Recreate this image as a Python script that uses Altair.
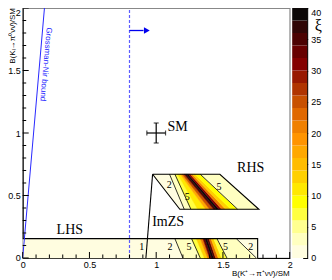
import altair as alt
import pandas as pd

W, H = 267, 250
SANS = "Liberation Sans"
SERIF = "Liberation Serif"

# ---- axis ticks / labels ----
x_major = [0, 0.5, 1, 1.5, 2]
x_minor = [0.1, 0.2, 0.3, 0.4, 0.6, 0.7, 0.8, 0.9, 1.1, 1.2, 1.3, 1.4, 1.6, 1.7, 1.8, 1.9]
y_major = [0, 0.5, 1, 1.5, 2]
y_minor = [0.1, 0.2, 0.3, 0.4, 0.6, 0.7, 0.8, 0.9, 1.1, 1.2, 1.3, 1.4, 1.6, 1.7, 1.8, 1.9]
xi_ticks = [0, 5, 10, 15, 20, 25, 30, 35, 40]
xi_levels = [0, 2, 4, 6, 8, 10, 12, 14, 16, 18, 20, 22, 24, 26, 28, 30, 32, 34, 36, 38, 40]
palette = ["#fffde0", "#ffffc0", "#ffff90", "#ffff40", "#ffff00", "#ffe800", "#ffd000",
           "#ffbc00", "#ffa800", "#ff9400", "#f08000", "#e06800", "#c85000", "#b03400",
           "#981800", "#840000", "#680000", "#4c0202", "#300606", "#0c0808"]

# ---- LHS band (strips between slanted boundaries) ----
band_y = [0.0, 0.155]
band_bottom = [0.0, 0.925, 1.20, 1.33, 1.36, 1.385, 1.40, 1.415, 1.43, 1.445, 1.465, 1.49, 1.53, 1.75, 1.76]
band_top = [0.0, 0.93, 1.14, 1.265, 1.30, 1.33, 1.35, 1.365, 1.38, 1.395, 1.41, 1.43, 1.455, 1.60, 1.76]
band_xi = [1, 1.5, 3, 7, 12, 20, 32, 39, 34, 22, 12, 7, 3, 1.5]
band_contours = [2, 3, 12, 13]

# ---- RHS trapezoid ----
trap_y = [0.39, 0.67]
trap_bottom = [1.177, 1.21, 1.26, 1.31, 1.37, 1.40, 1.43, 1.45, 1.47, 1.49, 1.52, 1.56, 1.61, 1.769]
trap_top = [0.973, 1.10, 1.14, 1.16, 1.18, 1.195, 1.21, 1.225, 1.24, 1.255, 1.27, 1.29, 1.33, 1.477]
trap_xi = [1.5, 3, 7, 11, 17, 25, 34, 39, 30, 20, 13, 8, 3]
trap_contours = [1, 2, 12]

# ---- other elements ----
imzs_x = [0.973, 0.923]
imzs_y = [0.67, 0.0]
gn_x = [0.0, 0.163]
gn_y = [0.0, 2.0]
cut_x = [0.8]
arrow_x = [0.8, 0.905]
arrow_y = [1.82, 1.82]
arrow_head = [0.93]
sm_x, sm_y, sm_ex, sm_ey = [1.0], [1.0], [0.07], [0.08]

region_labels = ["LHS", "RHS", "ImZS", "SM"]
region_lx = [0.254, 1.606, 0.970, 1.085]
region_ly = [0.189, 0.687, 0.252, 1.016]

contour_labels = ["1", "2", "5", "5", "2", "2", "5", "5"]
contour_lx = [0.891, 1.104, 1.246, 1.52, 1.709, 1.097, 1.232, 1.47]
contour_ly = [0.089, 0.089, 0.089, 0.089, 0.089, 0.585, 0.485, 0.565]

# ---- build tables ----
rows = []
for name, ys, bot, top, xi in [("b", band_y, band_bottom, band_top, band_xi),
                               ("t", trap_y, trap_bottom, trap_top, trap_xi)]:
    for i, v in enumerate(xi):
        rows.append(dict(s=f"{name}{i}", y=ys[0], xl=bot[i], xr=bot[i + 1], xi=v))
        rows.append(dict(s=f"{name}{i}", y=ys[1], xl=top[i], xr=top[i + 1], xi=v))
strips = pd.DataFrame(rows)

lrows = []
def add_line(name, pts):
    for o, (x, y) in enumerate(pts):
        lrows.append(dict(id=name, o=o, x=x, y=y))

add_line("band", [(band_top[0], band_y[1]), (band_top[-1], band_y[1]), (band_bottom[-1], band_y[0])])
add_line("trap", [(trap_top[0], trap_y[1]), (trap_top[-1], trap_y[1]),
                  (trap_bottom[-1], trap_y[0]), (trap_bottom[0], trap_y[0]),
                  (trap_top[0], trap_y[1])])
add_line("imzs", list(zip(imzs_x, imzs_y)))
outlines = pd.DataFrame(lrows)
lrows = []
for k in band_contours:
    add_line(f"bc{k}", [(band_bottom[k], band_y[0]), (band_top[k], band_y[1])])
for k in trap_contours:
    add_line(f"tc{k}", [(trap_bottom[k], trap_y[0]), (trap_top[k], trap_y[1])])
contours = pd.DataFrame(lrows)

xs = alt.Scale(domain=[0, 2], nice=False, zero=False)
ys_ = alt.Scale(domain=[0, 2], nice=False, zero=False)
cscale = alt.Scale(type="threshold", domain=xi_levels[1:-1], range=palette)

xaxis = alt.Axis(values=x_major, format="~g", ticks=False, grid=False, domain=True,
                 domainColor="black", domainWidth=1, labelFont=SANS, labelFontSize=9,
                 labelColor="black", labelPadding=3, labelFlush=False, labelOverlap=False,
                 title=None)
yaxis = alt.Axis(orient="left", values=y_major, format="~g", ticks=False, grid=False,
                 domain=True, domainColor="black", domainWidth=1, labelFont=SANS,
                 labelFontSize=9, labelColor="black", labelPadding=2.5, labelFlush=False,
                 labelOverlap=False, title=None,
                 labelBaseline={"condition": {"test": "datum.value == 2", "value": "top"},
                                "value": "middle"})

def X(f):
    return alt.X(f + ":Q", scale=xs, axis=xaxis)

def Y(f):
    return alt.Y(f + ":Q", scale=ys_, axis=yaxis)

areas = alt.Chart(strips).mark_area(orient="horizontal", strokeWidth=0.5).encode(
    y=Y("y"), x=X("xl"), x2="xr:Q",
    color=alt.Color("xi:Q", scale=cscale, legend=None),
    stroke=alt.Stroke("xi:Q", scale=cscale, legend=None),
    detail="s:N")

contour_lines = alt.Chart(contours).mark_line(color="black", strokeWidth=0.8).encode(
    x=X("x"), y=Y("y"), detail="id:N", order="o:Q")
outline_lines = alt.Chart(outlines).mark_line(color="black", strokeWidth=1.1).encode(
    x=X("x"), y=Y("y"), detail="id:N", order="o:Q")

gn = alt.Chart(pd.DataFrame({"x": gn_x, "y": gn_y})).mark_line(color="#2828ff", strokeWidth=1).encode(
    x=X("x"), y=Y("y"))
gn_text = alt.Chart(pd.DataFrame({"x": [0.171], "y": [1.55], "t": ["Grossman-Nir bound"]})).mark_text(
    angle=95, align="center", baseline="middle", font=SANS, fontSize=8, color="#2828ff").encode(
    x=X("x"), y=Y("y"), text="t:N")

cut = alt.Chart(pd.DataFrame({"x": cut_x, "y0": [0.0], "y1": [2.0]})).mark_rule(
    color="#4a4aff", strokeDash=[3, 2], strokeWidth=1.2, opacity=0.9).encode(
    x=X("x"), y=Y("y0"), y2="y1:Q")
arrow = alt.Chart(pd.DataFrame({"x": arrow_x, "y": arrow_y})).mark_line(
    color="#0000ee", strokeWidth=1.3).encode(x=X("x"), y=Y("y"))
head = alt.Chart(pd.DataFrame({"x": arrow_head, "y": arrow_y[:1]})).mark_point(
    shape="triangle-right", size=45, filled=True, color="#0000ee", opacity=1).encode(x=X("x"), y=Y("y"))

sm = pd.DataFrame({"x": sm_x, "y": sm_y, "ex": sm_ex, "ey": sm_ey})
sm["x0"] = sm.x - sm.ex
sm["x1"] = sm.x + sm.ex
sm["y0"] = sm.y - sm.ey
sm["y1"] = sm.y + sm.ey
sm_h = alt.Chart(sm).mark_rule(color="black", strokeWidth=1.2).encode(x=X("x0"), x2="x1:Q", y=Y("y"))
sm_v = alt.Chart(sm).mark_rule(color="black", strokeWidth=1.2).encode(x=X("x"), y=Y("y0"), y2="y1:Q")
sm_cl = alt.Chart(sm).mark_tick(orient="vertical", size=5, thickness=1.2, color="black").encode(x=X("x0"), y=Y("y"))
sm_cr = alt.Chart(sm).mark_tick(orient="vertical", size=5, thickness=1.2, color="black").encode(x=X("x1"), y=Y("y"))
sm_cb = alt.Chart(sm).mark_tick(orient="horizontal", size=5, thickness=1.2, color="black").encode(x=X("x"), y=Y("y0"))
sm_ct = alt.Chart(sm).mark_tick(orient="horizontal", size=5, thickness=1.2, color="black").encode(x=X("x"), y=Y("y1"))

rl = alt.Chart(pd.DataFrame({"t": region_labels, "x": region_lx, "y": region_ly})).mark_text(
    align="left", baseline="alphabetic", font=SERIF, fontSize=14, color="black").encode(
    x=X("x"), y=Y("y"), text="t:N")
cl = alt.Chart(pd.DataFrame({"t": contour_labels, "x": contour_lx, "y": contour_ly})).mark_text(
    align="center", baseline="middle", font=SERIF, fontSize=10, color="black").encode(
    x=X("x"), y=Y("y"), text="t:N")

xt_major = alt.Chart(pd.DataFrame({"t": x_major})).mark_rule(color="black", strokeWidth=1).encode(
    x=X("t"), y=alt.value(H), y2=alt.value(H - 6))
xt_minor = alt.Chart(pd.DataFrame({"t": x_minor})).mark_rule(color="black", strokeWidth=1).encode(
    x=X("t"), y=alt.value(H), y2=alt.value(H - 3.5))
yt_major = alt.Chart(pd.DataFrame({"t": y_major})).mark_rule(color="black", strokeWidth=1).encode(
    y=Y("t"), x=alt.value(0), x2=alt.value(6))
yt_minor = alt.Chart(pd.DataFrame({"t": y_minor})).mark_rule(color="black", strokeWidth=1).encode(
    y=Y("t"), x=alt.value(0), x2=alt.value(3.5))

one = alt.Data(values=[{"a": 1}])
xtitle = alt.Chart(one).mark_text(
    text="B(K⁺→π⁺νν̄)/SM", align="right", baseline="middle", font=SANS, fontSize=8,
    color="black").encode(x=alt.value(W), y=alt.value(H + 16))
ytitle = alt.Chart(one).mark_text(
    text="B(Kₗ→π⁰νν̄)/SM", align="right", baseline="middle", angle=270, font=SANS,
    fontSize=8, color="black").encode(x=alt.value(-9.5), y=alt.value(0))

main = alt.layer(areas, contour_lines, outline_lines, gn, gn_text, cut, arrow, head,
                 sm_h, sm_v, sm_cl, sm_cr, sm_cb, sm_ct, rl, cl,
                 xt_major, xt_minor, yt_major, yt_minor, xtitle, ytitle)

cb = pd.DataFrame({"lo": xi_levels[:-1], "hi": xi_levels[1:]})
cb["mid"] = cb.lo + 1
cb_axis = alt.Axis(orient="right", values=xi_ticks, format="~g", ticks=True, tickSize=5,
                   tickColor="black", tickWidth=1, domain=False, offset=13, grid=False,
                   labelFont=SANS, labelFontSize=9, labelColor="black", labelPadding=3,
                   labelFlush=False, labelOverlap=False,
                   labelBaseline={"condition": {"test": "datum.value == 40", "value": "top"},
                                  "value": "middle"},
                   title="ξ", titleAngle=0, titleX=15, titleY=17, titleAlign="center",
                   titleBaseline="middle", titleFont=SERIF, titleFontSize=16,
                   titleFontWeight="normal", titleColor="black")
colorbar = alt.Chart(cb).mark_rect().encode(
    x=alt.value(W + 2.5), x2=alt.value(W + 18),
    y=alt.Y("lo:Q", scale=alt.Scale(domain=[0, 40], nice=False, zero=False), axis=cb_axis),
    y2="hi:Q",
    color=alt.Color("mid:Q", scale=cscale, legend=None))
cb_edge = alt.Chart(one).mark_rule(color="black", strokeWidth=1).encode(
    x=alt.value(W + 18), y=alt.value(0), y2=alt.value(H))

chart = alt.layer(main, colorbar, cb_edge).resolve_scale(y="independent").properties(
    width=W, height=H,
    autosize=alt.AutoSizeParams(type="none"),
    padding={"left": 14.7, "top": 0, "right": 34, "bottom": 22},
    background="white",
).configure_view(stroke="#888888", strokeWidth=1.2)

chart.save("out.html", embed_options={"renderer": "svg", "actions": False})
